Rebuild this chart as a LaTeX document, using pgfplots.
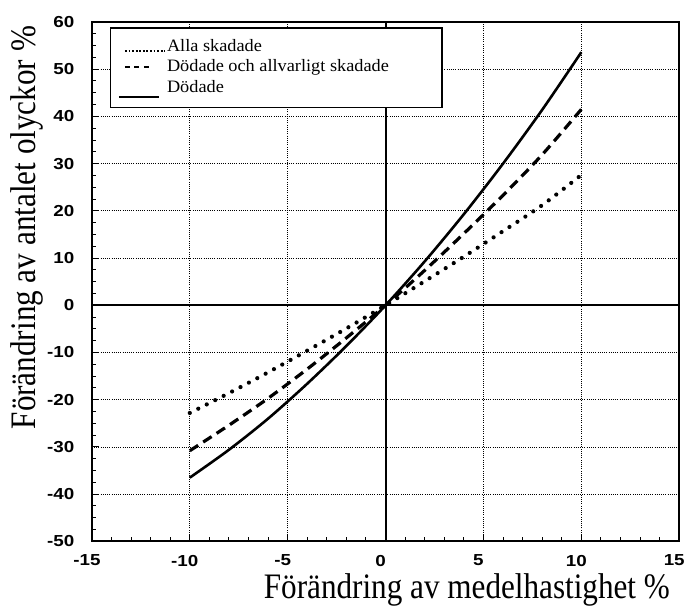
\documentclass[border=0pt]{standalone}
\usepackage{pgfplots}
\pgfplotsset{compat=1.18}
\usepackage{fontspec}
\setmainfont{Liberation Serif}
\newfontfamily\labelfont{Liberation Serif}[FakeStretch=0.87]
\newfontfamily\legendfont{Liberation Serif}[FakeStretch=1.05]
\newfontfamily\tickfont{Liberation Sans}[FakeStretch=1.18]
\usetikzlibrary{calc}

\begin{document}
\begin{tikzpicture}
\begin{axis}[
  width=588bp, height=520bp, scale only axis,
  xmin=-15, xmax=15, ymin=-50, ymax=60,
  xtick={-15,-10,...,15}, ytick={-50,-40,...,60},
  minor x tick num=4, minor y tick num=3,
  xtick pos=bottom, ytick pos=left, tick align=inside,
  major tick length=7bp, minor tick length=4.5bp,
  tick style={black, line width=1pt},
  axis line style={line width=1.8pt},
  grid=major,
  grid style={black, line width=0.8pt, dash pattern=on 0.8pt off 1.4pt},
  /pgf/number format/assume math mode=true,
  ticklabel style={font=\tickfont\bfseries\fontsize{16}{16}\selectfont},
  xticklabel style={xshift=-5bp, yshift=-10bp},
  yticklabel style={xshift=-14bp},
  xlabel={Förändring av medelhastighet \%},
  ylabel={Förändring av antalet olyckor \%},
  label style={font=\labelfont\fontsize{36}{36}\selectfont},
  xlabel style={at={(axis description cs:0.99,0)}, anchor=base east, yshift=-57bp},
  ylabel style={at={(axis description cs:-0.1105,0.604)}, anchor=center},
  legend cell align=left,
  legend style={at={(axis description cs:0.03,0.99)}, anchor=north west,
    draw=black, line width=1.4pt, fill=white,
    font=\legendfont\fontsize{17.5}{20}\selectfont,
    inner xsep=8bp, inner ysep=9.5bp, row sep=1bp,
    nodes={inner sep=1bp, text height=13bp, text depth=4.5bp}},
]
\coordinate (bl) at (rel axis cs:0,0);
\coordinate (tr) at (rel axis cs:1,1);

% solid zero lines
\draw[black, line width=2pt] (axis cs:0,-50) -- (axis cs:0,60);
\draw[black, line width=2pt] (axis cs:-15,0) -- (axis cs:15,0);

% Alla skadade
\addplot[black, line width=4.2bp, line cap=round, dash pattern=on 0bp off 9.5bp, smooth,
  legend image code/.code={
    \path[draw=none] (0bp,0bp) -- (46bp,0bp);
    \draw[black, line width=2.2pt, line cap=butt, dash pattern=on 1.8pt off 1.8pt] (6bp,-4bp) -- (46bp,-4bp);}]
  coordinates {(-10,-22.8) (-8,-18.6) (-6,-14.2) (-4,-9.6) (-2,-4.9) (0,0)
               (2,5.1) (4,10.3) (6,15.7) (8,21.2) (10,27.6)};
\addlegendentry{Alla skadade}

% Dödade och allvarligt skadade
\addplot[black, line width=3.2bp, dash pattern=on 10bp off 6bp, smooth,
  legend image code/.code={
    \path[draw=none] (0bp,0bp) -- (46bp,0bp);
    \draw[black, line width=1.6pt, dash pattern=on 5bp off 4.5bp] (6bp,0.5bp) -- (30bp,0.5bp);}]
  coordinates {(-10,-30.8) (-8,-25.4) (-6,-19.7) (-4,-13.5) (-2,-6.9) (0,0)
               (2,7.4) (4,15.2) (6,23.3) (8,31.9) (10,41.5)};
\addlegendentry{Dödade och allvarligt skadade\hspace*{44bp}}

% Dödade
\addplot[black, line width=2.6bp, smooth,
  legend image code/.code={
    \path[draw=none] (0bp,0bp) -- (46bp,0bp);
    \draw[black, line width=1.6pt] (0bp,-9bp) -- (40bp,-9bp);}]
  coordinates {(-10,-36.5) (-8,-30.6) (-6,-24.0) (-4,-16.6) (-2,-8.6) (0,0)
               (2,9.3) (4,19.3) (6,30.0) (8,41.4) (10,53.6)};
\addlegendentry{Dödade}
\end{axis}
\path ($(bl)+(-92bp,-70bp)$) rectangle ($(tr)+(8bp,22bp)$);
\end{tikzpicture}
\end{document}
